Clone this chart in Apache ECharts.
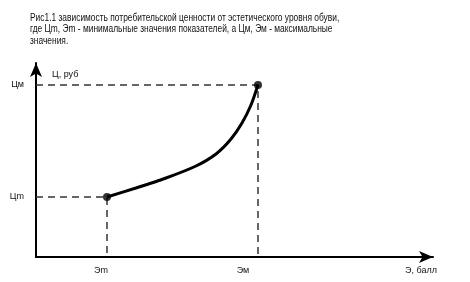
<!DOCTYPE html>
<html><head><meta charset="utf-8">
<script src="https://cdn.jsdelivr.net/npm/echarts@6/dist/echarts.min.js"></script>
<style>html,body{margin:0;padding:0;background:#fff}#c{width:470px;height:282px}</style>
</head><body><div id="c"></div>
<script>
const titleLines = [
  'Рис1.1 зависимость потребительской ценности от эстетического уровня обуви,',
  'где Цm, Эm - минимальные значения показателей, а Цм, Эм - максимальные',
  'значения.'
];
const xTickValues = [71, 222];
const xTickLabels = ['Эm', 'Эм'];
const yTickValues = [60, 172];
const yTickLabels = ['Цm', 'Цм'];
const curveX = [71, 100, 130, 160, 180, 195, 206, 215, 222];
const curveY = [60, 69, 79, 91, 103, 118, 134, 152, 172];
const xName = 'Э, балл';
const yName = 'Ц, руб';

const curve = curveX.map((x, i) => [x, curveY[i]]);
const guideMin = [[0, yTickValues[0]], [xTickValues[0], yTickValues[0]], [xTickValues[0], 0]];
const guideMax = [[0, yTickValues[1]], [xTickValues[1], yTickValues[1]], [xTickValues[1], 0]];
const ends = [curve[0], curve[curve.length - 1]];

const chart = echarts.init(document.getElementById('c'));
const font2 = '"Liberation Sans", Arial, sans-serif';
chart.setOption({
  animation: false,
  grid: { left: 36, right: 37, top: 63, bottom: 25 },
  xAxis: {
    type: 'value', min: 0, max: 397,
    splitLine: { show: false },
    axisLine: { lineStyle: { color: '#000', width: 2 }, symbol: ['none', 'arrow'], symbolSize: [9, 14] },
    axisTick: { show: false },
    axisLabel: {
      customValues: xTickValues,
      formatter: v => v === xTickValues[0] ? '{a|' + xTickLabels[0] + '}' : '{b|' + xTickLabels[1] + '}',
      color: '#111', fontSize: 9, fontFamily: font2, margin: 9,
      rich: {
        a: { fontSize: 9, fontFamily: font2, color: '#111', padding: [0, 12, 0, 0] },
        b: { fontSize: 9, fontFamily: font2, color: '#111', padding: [0, 30, 0, 0] }
      }
    }
  },
  yAxis: {
    type: 'value', min: 0, max: 194,
    splitLine: { show: false },
    axisLine: { lineStyle: { color: '#000', width: 2 }, symbol: ['none', 'arrow'], symbolSize: [9, 14] },
    axisTick: { show: false },
    axisLabel: {
      customValues: yTickValues,
      formatter: v => yTickLabels[yTickValues.indexOf(v)] || '',
      color: '#111', fontSize: 9, fontFamily: font2, margin: 12
    }
  },
  graphic: [
    { type: 'text', x: 30, y: 12, scaleX: 0.84,
      style: { text: titleLines.join('\n'), fontSize: 10, lineHeight: 11.7, fontFamily: font2, fill: '#111' } },
    { type: 'text', left: 52, top: 70, style: { text: yName, fontSize: 9, fontFamily: font2, fill: '#111' } },
    { type: 'text', left: 405, top: 266, style: { text: xName, fontSize: 9, fontFamily: font2, fill: '#111' } }
  ],
  series: [
    { type: 'line', data: guideMin, symbol: 'none', lineStyle: { color: '#333', width: 1.5, type: [7, 5] }, z: 1 },
    { type: 'line', data: guideMax, symbol: 'none', lineStyle: { color: '#333', width: 1.5, type: [7, 5] }, z: 1 },
    { type: 'line', data: curve, smooth: 0.25, symbol: 'none', lineStyle: { color: '#000', width: 3 }, z: 3 },
    { type: 'scatter', data: ends, symbolSize: 8, itemStyle: { color: '#000' }, z: 4 }
  ]
});
</script></body></html>
